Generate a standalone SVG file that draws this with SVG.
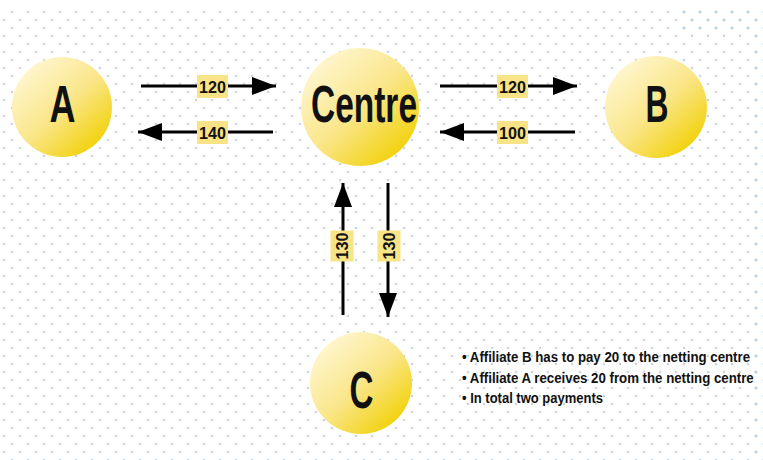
<svg xmlns="http://www.w3.org/2000/svg" width="763" height="460" viewBox="0 0 763 460">
  <defs>
    <pattern id="dots" width="16" height="16" patternUnits="userSpaceOnUse">
      <circle cx="4" cy="4" r="1.3" fill="#ccd4de"/>
      <circle cx="12" cy="12" r="1.3" fill="#ccd4de"/>
    </pattern>
    <pattern id="dotsBlue" width="16" height="16" patternUnits="userSpaceOnUse">
      <circle cx="4" cy="4" r="1.6" fill="#b7d0e3"/>
      <circle cx="12" cy="12" r="1.6" fill="#b7d0e3"/>
    </pattern>
    <linearGradient id="ball" x1="0.12" y1="0.1" x2="0.88" y2="0.92">
      <stop offset="0" stop-color="#fff7d2"/>
      <stop offset="0.5" stop-color="#fae68a"/>
      <stop offset="1" stop-color="#f1d000"/>
    </linearGradient>
    <marker id="head" viewBox="0 0 24 18" refX="24" refY="9" markerWidth="24" markerHeight="18" markerUnits="userSpaceOnUse" orient="auto">
      <path d="M0,0 L24,9 L0,18 Z" fill="#000"/>
    </marker>
  </defs>
  <style>
    .node { fill: url(#ball); }
    .big { font-family: "Liberation Sans Narrow", "Liberation Sans", Arial, sans-serif; font-size: 52px; font-weight: bold; fill: #111; text-anchor: middle; }
    .wire { stroke: #000; stroke-width: 3; fill: none; marker-end: url(#head); }
    .tag { fill: #f8e386; }
    .num { font-family: "Liberation Sans Narrow", "Liberation Sans", Arial, sans-serif; font-size: 17px; font-weight: bold; fill: #111; text-anchor: middle; }
    .note { font-family: "Liberation Sans Narrow", "Liberation Sans", Arial, sans-serif; font-size: 14px; font-weight: bold; fill: #111; }
  </style>

  <!-- background -->
  <rect width="763" height="460" fill="#fff"/>
  <rect x="0" y="8" width="763" height="452" fill="url(#dots)"/>
  <rect x="682" y="8" width="81" height="27" fill="#fff"/>
  <rect x="682" y="8" width="81" height="27" fill="url(#dotsBlue)"/>
  <rect x="752" y="35" width="11" height="425" fill="#fff"/>
  <rect x="752" y="35" width="11" height="425" fill="url(#dotsBlue)"/>

  <!-- nodes -->
  <g id="node-A">
    <circle class="node" cx="62" cy="107" r="50"/>
    <text class="big" x="62.5" y="122" textLength="26" lengthAdjust="spacingAndGlyphs">A</text>
  </g>
  <g id="node-Centre">
    <circle class="node" cx="360" cy="107" r="59"/>
    <text class="big" x="364" y="122" textLength="106" lengthAdjust="spacingAndGlyphs">Centre</text>
  </g>
  <g id="node-B">
    <circle class="node" cx="656" cy="107" r="51"/>
    <text class="big" x="657" y="122" textLength="23" lengthAdjust="spacingAndGlyphs">B</text>
  </g>
  <g id="node-C">
    <circle class="node" cx="361" cy="383" r="51"/>
    <text class="big" x="361.5" y="408" textLength="24" lengthAdjust="spacingAndGlyphs">C</text>
  </g>

  <!-- connectors -->
  <g id="connectors">
    <path class="wire" d="M141,86 L276,86"/>
    <path class="wire" d="M273,132 L138,132"/>
    <path class="wire" d="M440,86 L577,86"/>
    <path class="wire" d="M575,132 L440,132"/>
    <path class="wire" d="M343,315 L343,183"/>
    <path class="wire" d="M388,183 L388,317"/>

    <g id="label-A-Centre">
      <rect class="tag" x="197" y="75" width="31" height="23"/>
      <text class="num" x="212.5" y="92.5" textLength="27" lengthAdjust="spacingAndGlyphs">120</text>
    </g>
    <g id="label-Centre-A">
      <rect class="tag" x="197" y="121" width="31" height="23"/>
      <text class="num" x="212.5" y="138.5" textLength="27" lengthAdjust="spacingAndGlyphs">140</text>
    </g>
    <g id="label-Centre-B">
      <rect class="tag" x="497" y="75" width="31" height="23"/>
      <text class="num" x="512.5" y="92.5" textLength="27" lengthAdjust="spacingAndGlyphs">120</text>
    </g>
    <g id="label-B-Centre">
      <rect class="tag" x="497" y="121" width="31" height="23"/>
      <text class="num" x="512.5" y="138.5" textLength="27" lengthAdjust="spacingAndGlyphs">100</text>
    </g>
    <g id="label-C-Centre" transform="translate(342 246) rotate(-90)">
      <rect class="tag" x="-15.5" y="-11.5" width="31" height="23"/>
      <text class="num" x="0" y="6" textLength="27" lengthAdjust="spacingAndGlyphs">130</text>
    </g>
    <g id="label-Centre-C" transform="translate(389 246) rotate(-90)">
      <rect class="tag" x="-15.5" y="-11.5" width="31" height="23"/>
      <text class="num" x="0" y="6" textLength="27" lengthAdjust="spacingAndGlyphs">130</text>
    </g>
  </g>

  <!-- notes, set in a horizontally condensed frame -->
  <g id="notes" transform="translate(462 0) scale(0.75 1)">
    <text class="note" x="0" y="362" textLength="384" lengthAdjust="spacingAndGlyphs">• Affiliate B has to pay 20 to the netting centre</text>
    <text class="note" x="0" y="383" textLength="389" lengthAdjust="spacingAndGlyphs">• Affiliate A receives 20 from the netting centre</text>
    <text class="note" x="0" y="403" textLength="188" lengthAdjust="spacingAndGlyphs">• In total two payments</text>
  </g>
</svg>
